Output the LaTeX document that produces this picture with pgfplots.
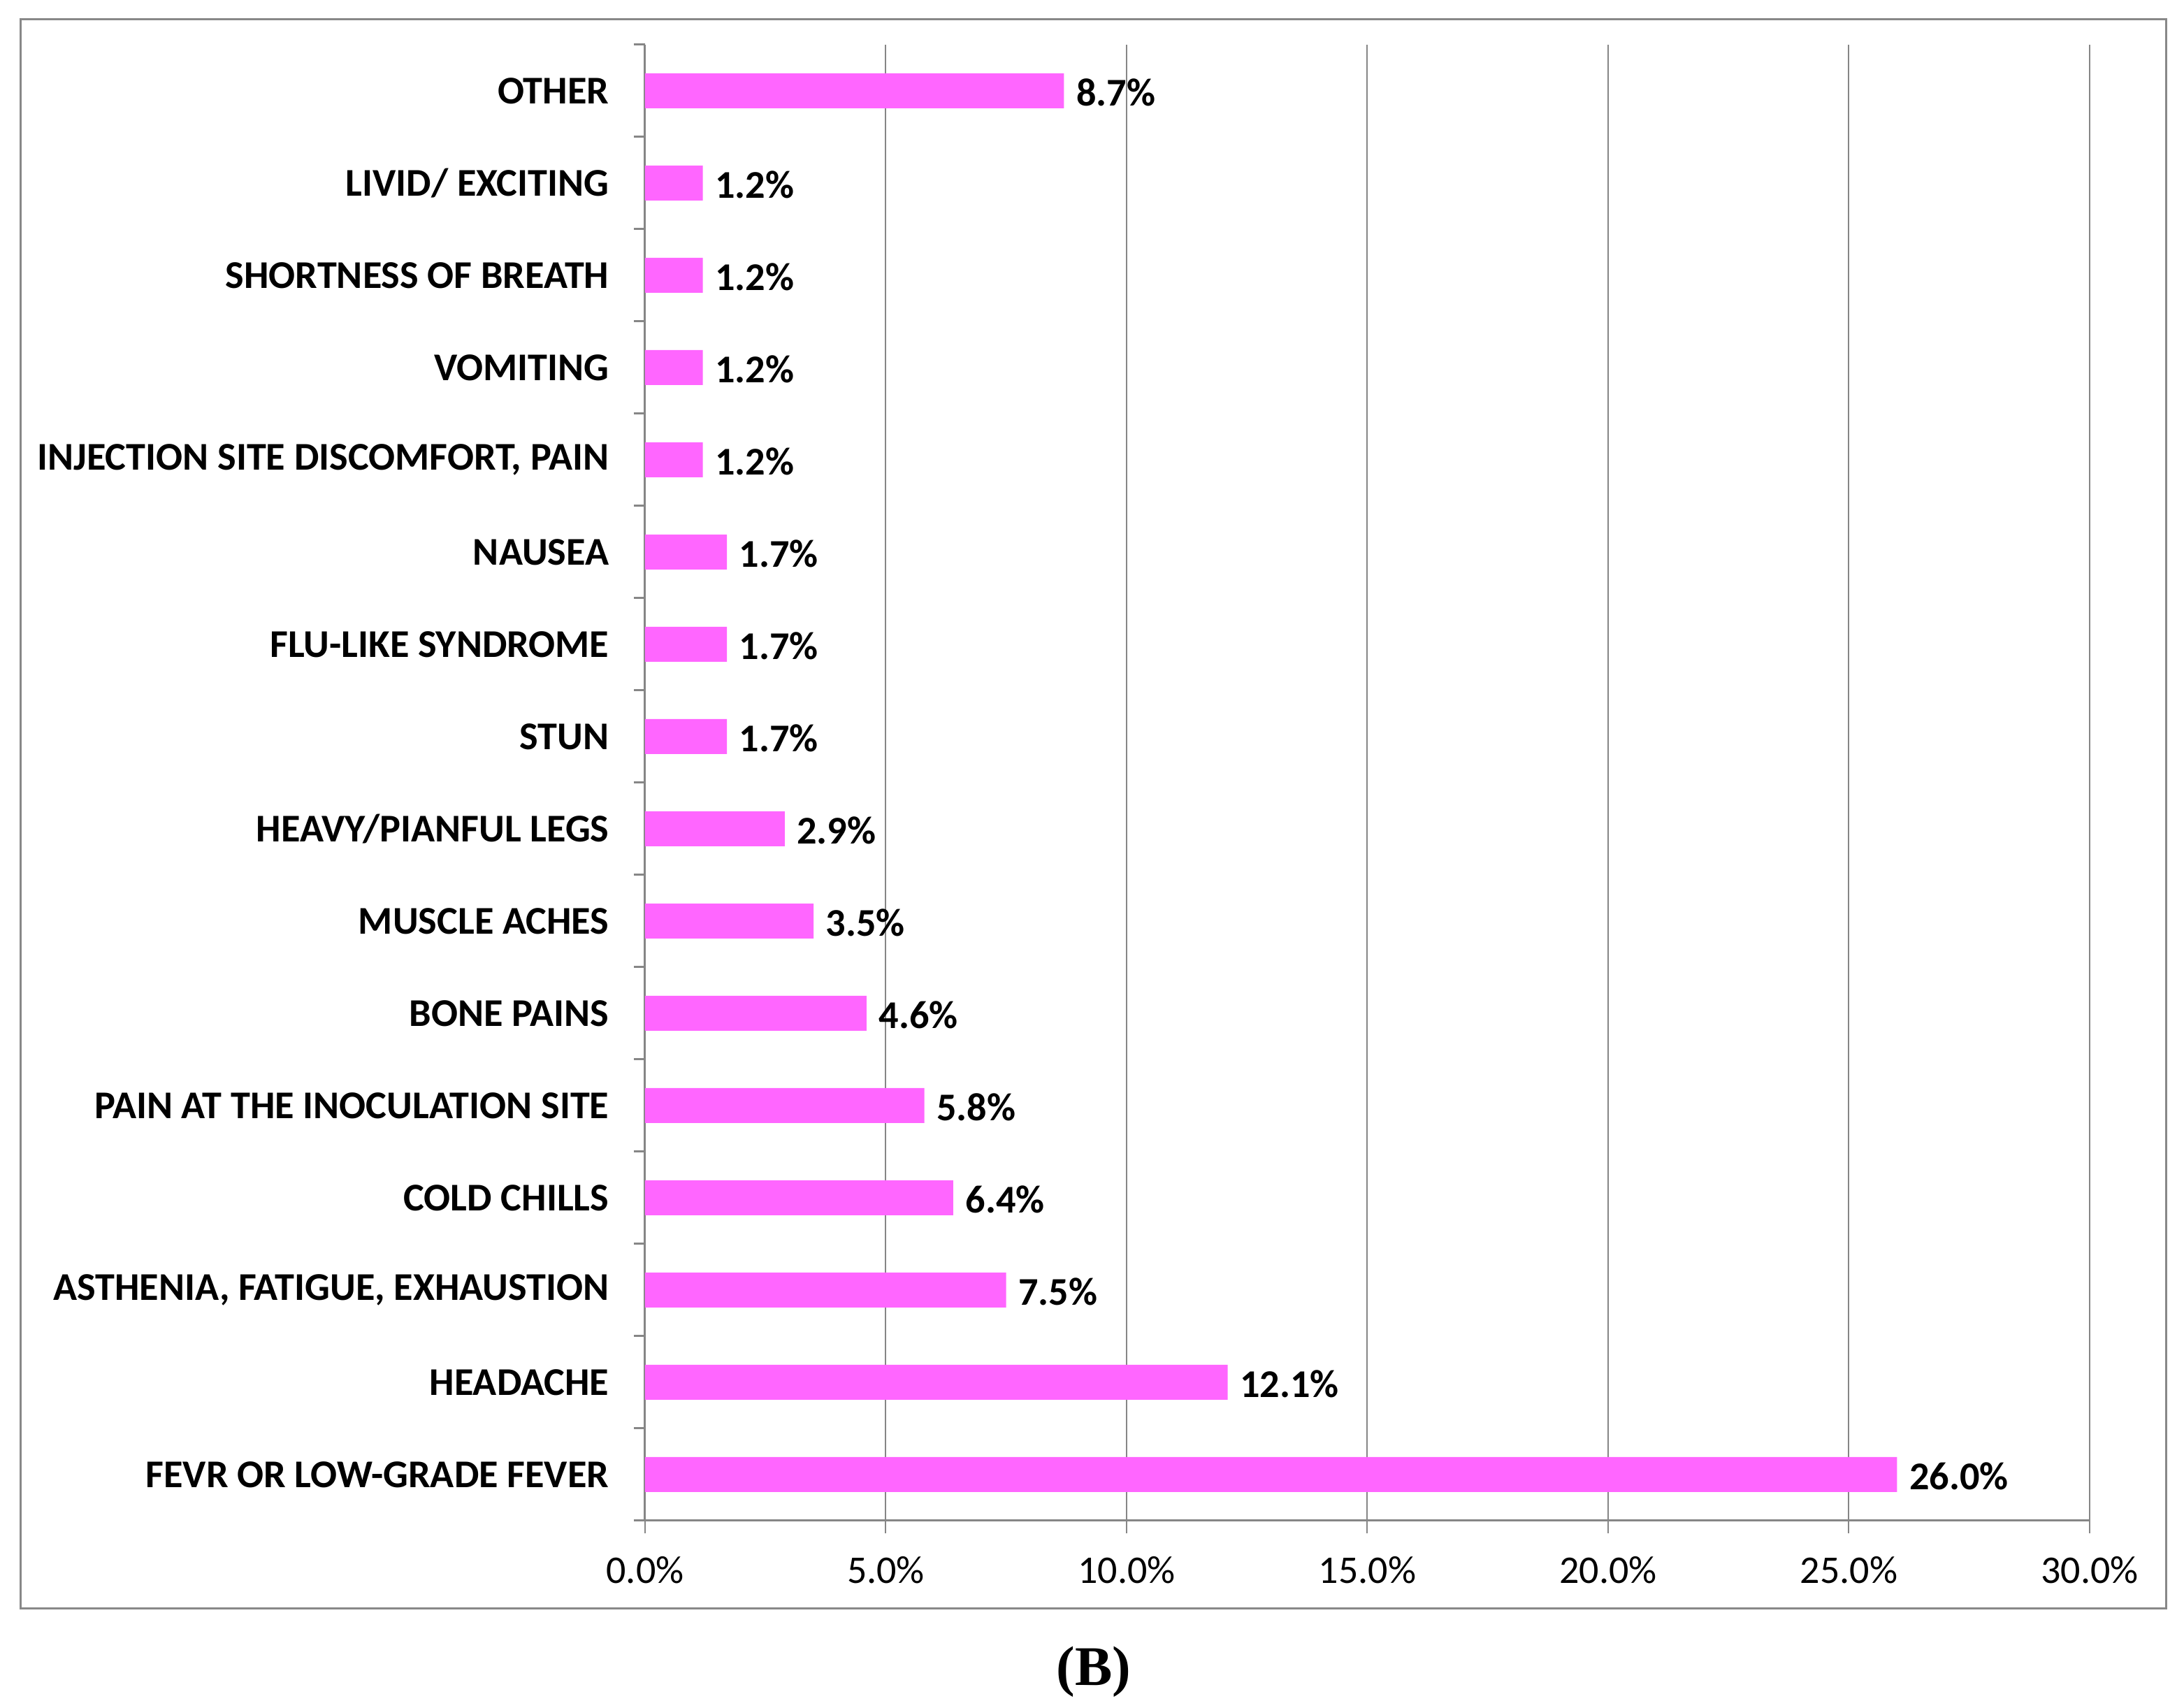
\documentclass[border=0pt]{standalone}
\usepackage{fontspec}
\setmainfont{Carlito}
\newfontfamily\serifB{Liberation Serif}
\usepackage{pgfplots}
\pgfplotsset{compat=1.18}
\definecolor{barpink}{RGB}{255,102,255}
\definecolor{framegray}{RGB}{136,136,136}
\definecolor{gridgray}{RGB}{134,134,134}
\begin{document}
\begin{tikzpicture}[x=1pt,y=1pt]
\path[use as bounding box] (-184.6,-53.6) rectangle (440.4,435.2);
\draw[framegray, line width=0.6pt] (-178.6,-25.2) rectangle (435.2,429.6);
\begin{axis}[
  at={(0,0)}, anchor=south west,
  scale only axis, width=413.4pt, height=422.4pt,
  xbar, bar width=10pt,
  xmin=0, xmax=30, ymin=-0.5, ymax=15.5,
  axis x line*=bottom, axis y line*=left,
  axis line style={-, draw=gridgray, line width=0.6pt},
  xtick={0,5,...,30},
  /pgf/number format/assume math mode=true,
  xticklabel={\pgfmathprintnumber[fixed,fixed zerofill,precision=1]{\tick}\%},
  xticklabel style={font=\fontsize{11.2}{13}\selectfont, yshift=-3.2pt},
  xmajorgrids, grid style={gridgray, line width=0.4pt},
  tick align=outside,
  major tick length=3.6pt, minor tick length=3.2pt,
  major x tick style={gridgray, line width=0.4pt},
  major y tick style={draw=none},
  minor y tick style={gridgray, line width=0.6pt},
  ytick={0,...,15},
  minor ytick={-0.5,0.5,...,15.5},
  yticklabels={FEVR OR LOW-GRADE FEVER, HEADACHE, {ASTHENIA, FATIGUE, EXHAUSTION}, COLD CHILLS, PAIN AT THE INOCULATION SITE, BONE PAINS, MUSCLE ACHES, HEAVY/PIANFUL LEGS, STUN, FLU-LIKE SYNDROME, NAUSEA, {INJECTION SITE DISCOMFORT, PAIN}, VOMITING, SHORTNESS OF BREATH, LIVID/ EXCITING, OTHER},
  yticklabel style={font=\bfseries\fontsize{11.25}{13}\selectfont, xshift=-3.2pt},
  point meta=x,
  nodes near coords={\pgfmathprintnumber[fixed,fixed zerofill,precision=1]{\pgfplotspointmeta}\%},
  nodes near coords style={font=\bfseries\fontsize{11.25}{13}\selectfont, anchor=west, text=black, yshift=-0.4pt},
]
\addplot[fill=barpink, draw=none] coordinates {(26.0,0) (12.1,1) (7.5,2) (6.4,3) (5.8,4) (4.6,5) (3.5,6) (2.9,7) (1.7,8) (1.7,9) (1.7,10) (1.2,11) (1.2,12) (1.2,13) (1.2,14) (8.7,15)};
\end{axis}
\node[font=\serifB\bfseries\fontsize{16}{18}\selectfont] at (128.4,-43.2) {(B)};
\end{tikzpicture}
\end{document}
